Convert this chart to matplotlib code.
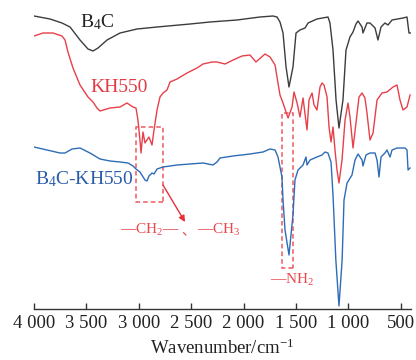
import matplotlib
matplotlib.use("Agg")
import matplotlib.pyplot as plt
from matplotlib.patches import Rectangle

plt.rcParams['font.family'] = ['Liberation Serif', 'Noto Sans CJK SC']
plt.rcParams['mathtext.fontset'] = 'custom'
plt.rcParams['mathtext.rm'] = 'Liberation Serif'
plt.rcParams['mathtext.it'] = 'Liberation Serif:italic'
plt.rcParams['mathtext.bf'] = 'Liberation Serif:bold'

# ---- data (wavenumber cm-1, transmittance a.u. with vertical offsets) ----
b4c_w = [4000, 3847, 3733, 3656, 3561, 3485, 3437, 3389, 3303, 3179, 3017, 2826, 2511, 2321,
         2063, 1844, 1720, 1681, 1653, 1624, 1595, 1567, 1529, 1500, 1462, 1414, 1385, 1300,
         1195, 1176, 1147, 1118, 1090, 1052, 1023, 985, 956, 928, 908, 870, 861, 823, 794,
         746, 718, 689, 651, 622, 584, 479, 441, 422, 400]
b4c_t = [293, 290, 286, 282, 269, 260, 258, 261, 269, 276, 280, 282, 285, 287,
         289, 292, 293, 292, 287, 276, 242, 222, 242, 276, 279, 281, 286, 290,
         292, 286, 259, 209, 181, 209, 259, 272, 277, 285, 288, 282, 276, 286, 286,
         281, 269, 282, 286, 284, 289, 291, 292, 276, 276]

kh_w = [4000, 3914, 3819, 3733, 3704, 3676, 3628, 3561, 3485, 3437, 3399, 3370, 3275, 3179,
        3113, 3055, 3027, 3008, 2989, 2979, 2960, 2941, 2922, 2903, 2874, 2855, 2826, 2798,
        2769, 2731, 2702, 2635, 2540, 2445, 2387, 2301, 2254, 2177, 2101, 2015, 1939, 1882,
        1796, 1748, 1700, 1672, 1653, 1624, 1576, 1538, 1519, 1490, 1462, 1433, 1395, 1376,
        1347, 1328, 1300, 1271, 1252, 1233, 1204, 1185, 1166, 1147, 1128, 1109, 1090, 1061,
        1032, 1004, 985, 956, 928, 899, 870, 842, 823, 794, 765, 727, 679, 632, 574, 536,
        508, 479, 441, 412]
kh_t = [273, 276, 276, 273, 269, 257, 241, 224, 212, 207, 201, 198, 201, 202,
        206, 202, 201, 189, 169, 156, 177, 166, 169, 172, 164, 179, 199, 212,
        216, 219, 227, 230, 236, 241, 245, 247, 247, 245, 249, 253, 254, 247,
        255, 252, 244, 226, 214, 206, 191, 202, 217, 206, 192, 211, 179, 209,
        216, 204, 199, 222, 226, 224, 212, 182, 167, 182, 159, 139, 126, 149,
        189, 206, 192, 161, 186, 212, 216, 211, 196, 169, 176, 209, 216, 217, 222, 224,
        209, 199, 202, 214]

mix_w = [4000, 3876, 3752, 3704, 3637, 3561, 3466, 3370, 3275, 3179, 3103, 3055, 3027, 2989,
         2941, 2922, 2903, 2874, 2855, 2826, 2769, 2635, 2511, 2387, 2292, 2254, 2225, 2101,
         1939, 1815, 1748, 1700, 1672, 1634, 1624, 1605, 1567, 1529, 1510, 1481, 1433, 1405,
         1395, 1366, 1300, 1252, 1223, 1195, 1166, 1147, 1120, 1090, 1060, 1042, 1013, 966,
         937, 908, 870, 861, 832, 794, 746, 727, 708, 689, 651, 632, 603, 584, 536, 460,
         441, 431, 412]
mix_t = [162, 159, 156, 156, 160, 161, 156, 150, 148, 147, 146, 143, 140, 137,
         129, 128, 133, 136, 135, 140, 142, 144, 145, 146, 144, 147, 151, 153,
         155, 157, 160, 159, 152, 132, 109, 79, 54, 94, 129, 139, 144, 152,
         144, 149, 152, 154, 157, 156, 147, 114, 49, 3, 49, 109, 126, 134,
         149, 155, 149, 143, 154, 156, 156, 149, 132, 152, 156, 159, 152, 159, 161, 161,
         159, 139, 141]

xticks = [4000, 3500, 3000, 2500, 2000, 1500, 1000, 500]
xticklabels = ['4 000', '3 500', '3 000', '2 500', '2 000', '1 500', '1 000', '500']

fig = plt.figure(figsize=(4.16, 3.60), dpi=100)
ax = fig.add_axes([34 / 416, 51 / 360, 377.3 / 416, 305 / 360])

ax.plot(b4c_w, b4c_t, color='#3c3c3c', lw=1.0)
ax.plot(kh_w, kh_t, color='#e8404a', lw=1.0)
ax.plot(mix_w, mix_t, color='#2e6cb8', lw=1.0)

ax.set_xlim(4000, 400)
ax.set_ylim(0, 305)

# dashed boxes
ax.add_patch(Rectangle((2769, 107), 3027 - 2769, 182 - 107, fill=False,
                       ec='#ec5a5f', lw=1.1, ls=(0, (3, 2))))
ax.add_patch(Rectangle((1529, 41), 1634 - 1529, 196 - 41, fill=False,
                       ec='#ec5a5f', lw=1.1, ls=(0, (3, 2))))
ax.annotate('', xy=(2559, 87), xytext=(2769, 124),
            arrowprops=dict(arrowstyle='-|>', color='#e8303a', lw=1.0,
                            mutation_scale=9, shrinkA=0, shrinkB=0))

# curve labels
ax.text(3561, 282, r'B$\mathregular{_4}$C', color='#222222', fontsize=14, va='baseline', ha='left')
ax.text(3466, 217, 'KH550', color='#e33a45', fontsize=14, va='baseline', ha='left')
ax.text(3990, 125, r'B$\mathregular{_4}$C-KH550', color='#2a5ca8', fontsize=14, va='baseline', ha='left')

ann_c = '#e8474e'
ax.text(3179, 75, r'—CH$\mathregular{_2}$—', color=ann_c, fontsize=11, va='baseline', ha='left')
ax.text(2592, 75, '、', color=ann_c, fontsize=10, va='baseline', ha='left',
        family=['Noto Sans CJK SC'])
ax.text(2440, 75, r'—CH$\mathregular{_3}$', color=ann_c, fontsize=11, va='baseline', ha='left')
ax.text(1748, 25, r'—NH$\mathregular{_2}$', color=ann_c, fontsize=11, va='baseline', ha='left')

for s in ['left', 'right', 'top']:
    ax.spines[s].set_visible(False)
ax.spines['bottom'].set_color('#333333')
ax.spines['bottom'].set_linewidth(1.0)
ax.set_yticks([])
ax.set_xticks(xticks)
ax.set_xticklabels(xticklabels)
ax.tick_params(axis='x', direction='in', length=4, width=1.0, color='#333333',
               labelsize=13.5, pad=4, labelcolor='#222222')
ax.set_xlabel(r'Wavenumber/cm$^{-1}$', fontsize=13.5, color='#222222', labelpad=5)

fig.savefig('out.png', dpi=100)
